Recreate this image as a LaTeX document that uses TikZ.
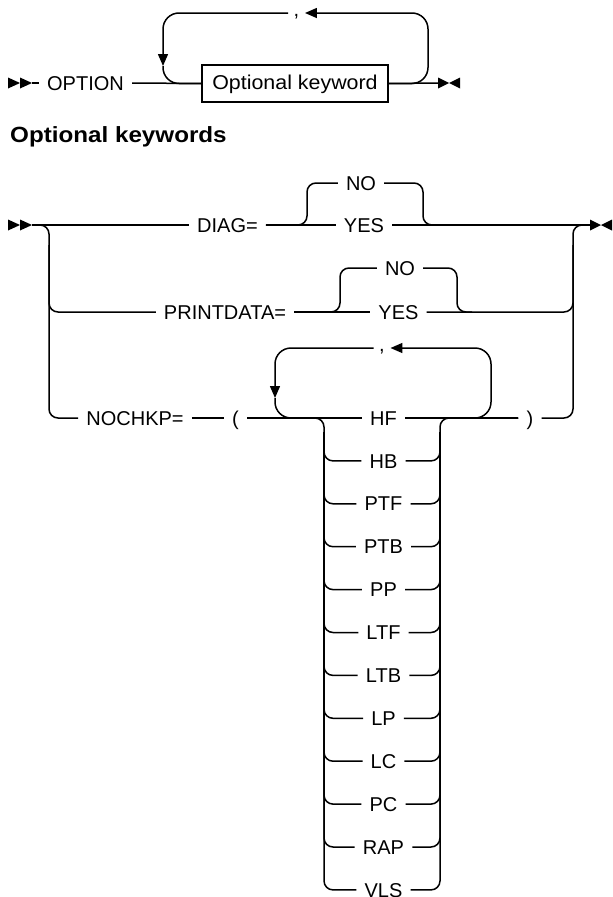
\documentclass[tikz,border=0pt]{standalone}
\usepackage{fontspec}
\usepackage{graphicx}
\setmainfont{Liberation Sans}
\usetikzlibrary{arrows.meta}
\begin{document}
\begin{tikzpicture}[x=1pt,y=-1pt,
  rail/.style={line width=1.5pt, rounded corners=9pt},
  loopline/.style={line width=1.5pt, rounded corners=16pt},
  tipped/.style={-{Triangle[length=12pt,width=10pt]}},
  kw/.style={inner xsep=8pt, inner ysep=0pt, text height=14.3pt, text depth=0pt,
    font=\fontsize{20}{24}\selectfont},
  sepmark/.style={kw, inner xsep=5.5pt, text height=6pt},
  refbox/.style={draw, line width=1.5pt, minimum width=186pt, minimum height=37pt,
    inner sep=0pt, text height=14.3pt, text depth=1.5pt, font=\fontsize{20}{24}\selectfont},
  heading/.style={anchor=base west, inner sep=0pt, font=\bfseries\fontsize{22}{26}\selectfont},
  endmark/.style={fill=black}
]
\useasboundingbox (0,0) rectangle (613,897);

% ---------- OPTION statement ----------
\fill[endmark] (8,77.5) -- (20,83) -- (8,88.5) -- cycle;
\fill[endmark] (20,77.5) -- (32,83) -- (20,88.5) -- cycle;
\coordinate (t0) at (32,83);
\node[kw] (opt) at (85.5,83) {OPTION};
\node[refbox] (kwbox) at (295,83.5) {\scalebox{1.07}[1]{Optional keyword}};
\coordinate (tend) at (438,83);
\fill[endmark] (438,77.5) -- (449,83) -- (438,88.5) -- cycle;
\fill[endmark] (460,77.5) -- (449,83) -- (460,88.5) -- cycle;

\draw[rail] (t0) -- (opt.west);
\draw[rail] (opt.east) -- (kwbox.west);
\draw[rail] (kwbox.east) -- (tend);

% repeat loop with separator
\node[sepmark] (cm1) at (296.5,13) {,};
\coordinate (tlR) at (428,13);
\coordinate (tlL) at (163,66);
\draw[loopline,tipped] (kwbox.east) -| (tlR) -- (cm1.east);
\draw[loopline,tipped] (cm1.west) -| (tlL);
\draw[loopline] (tlL) |- (kwbox.west);

% ---------- heading ----------
\node[heading] (head) at (10,142) {\scalebox{1.1}[1]{Optional keywords}};

% ---------- keyword choices ----------
\fill[endmark] (8,219.5) -- (20,225) -- (8,230.5) -- cycle;
\fill[endmark] (20,219.5) -- (32,225) -- (20,230.5) -- cycle;
\coordinate (m0) at (32,225);
\coordinate (mend) at (590,225);
\fill[endmark] (590,219.5) -- (601,225) -- (590,230.5) -- cycle;
\fill[endmark] (612,219.5) -- (601,225) -- (612,230.5) -- cycle;

% DIAG=
\node[kw] (diag) at (227.5,225) {DIAG=};
\node[kw] (yes1) at (364,225) {YES};
\node[kw] (no1)  at (361,183) {NO};
\coordinate (bL1) at (307,183);
\coordinate (bR1) at (423,225);
\coordinate (bR1e) at (440,225);
\draw[rail] (m0) -- (diag.west);
\draw[rail] (diag.east) -- (yes1.west);
\draw[rail] (yes1.east) -- (mend);
\draw[rail] (diag.east) -| (bL1) -- (no1.west);
\draw[rail] (no1.east) -| (bR1) -- (bR1e);

% PRINTDATA=
\node[kw] (pd)   at (225,312) {PRINTDATA=};
\node[kw] (yes2) at (398.5,312) {YES};
\node[kw] (no2)  at (400,268) {NO};
\coordinate (bL2) at (340,268);
\coordinate (bR2) at (457,312);
\coordinate (bR2e) at (472,312);
\draw[rail] (pd.east) -- (yes2.west);
\draw[rail] (pd.east) -| (bL2) -- (no2.west);
\draw[rail] (no2.east) -| (bR2) -- (bR2e);

% NOCHKP=
\node[kw] (nk) at (135,418) {NOCHKP=};
\node[kw] (lparen) at (235.5,418) {(};
\node[kw] (rparen) at (530,418) {)};
\node[kw] (hf) at (383.5,418) {HF};

% outer rails
\coordinate (vLb) at (49,418);
\coordinate (vLt) at (49,245);
\coordinate (vRtop) at (573,225);
\coordinate (vRt) at (573,245);
\draw[rail] (m0) -| (vLb) -- (nk.west);
\draw[rail] (pd.west) -| (vLt);
\draw[rail] (yes2.east) -| (vRt);
\draw[rail] (rparen.east) -| (vRtop) -- (mend);

\draw[rail] (nk.east) -- (lparen.west);
\draw[rail] (lparen.east) -- (hf.west);
\draw[rail] (hf.east) -- (rparen.west);

% choice stack
\foreach \lbl [count=\i] in {HB,PTF,PTB,PP,LTF,LTB,LP,LC,PC,RAP,VLS}
  \node[kw] (r\i) at (383.5,418+42.9*\i) {\lbl};
\coordinate (sLt) at (324,432);
\coordinate (sRt) at (440,432);
\coordinate (sLb) at (324,889.9);
\coordinate (sRtop) at (440,418);
\draw[rail] (lparen.east) -| (sLb) -- (r11.west);
\draw[rail] (r11.east) -| (sRtop) -- (rparen.west);
\foreach \i in {1,...,10} {
  \draw[rail] (r\i.west) -| (sLt);
  \draw[rail] (r\i.east) -| (sRt);
}

% repeat loop around the stack
\node[sepmark] (cm2) at (382,348) {,};
\coordinate (lpR) at (491,348);
\coordinate (lpL) at (275,398);
\draw[loopline,tipped] (hf.east) -| (lpR) -- (cm2.east);
\draw[loopline,tipped] (cm2.west) -| (lpL);
\draw[loopline] (lpL) |- (hf.west);
\end{tikzpicture}
\end{document}
